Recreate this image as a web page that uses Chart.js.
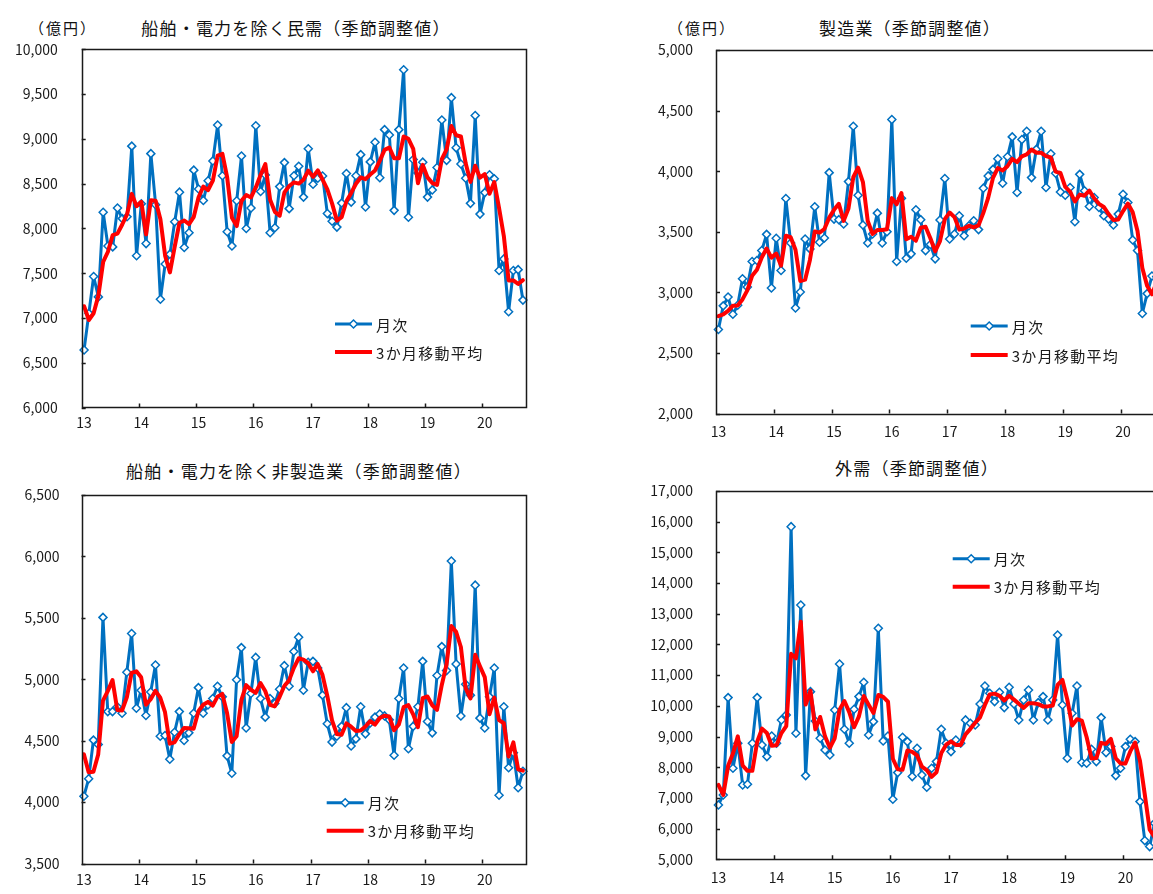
<!DOCTYPE html>
<html lang="ja">
<head>
<meta charset="utf-8">
<title>機械受注（季節調整値）</title>
<script src="https://cdn.jsdelivr.net/npm/chart.js@4.4.1/dist/chart.umd.min.js"></script>
<style>
  html, body { margin: 0; padding: 0; width: 1153px; height: 894px; overflow: hidden; background: #fff; }
  #page { position: relative; width: 1153px; height: 894px; overflow: hidden;
          font-family: "Noto Sans CJK JP", "Noto Sans", sans-serif; color: #111; }
  canvas { position: absolute; }
  .title { position: absolute; font-size: 17px; line-height: 1; white-space: nowrap;
           letter-spacing: 1.2px; transform: translate(-50%, -50%); }
  .unit { position: absolute; font-size: 15px; line-height: 1; white-space: nowrap;
          letter-spacing: 2px; transform: translate(-50%, -50%); }
</style>
</head>
<body>
<div id="page">
  <div class="unit" style="left:63px; top:27px;">（億円）</div>
  <div class="title" style="left:296px; top:27px;">船舶・電力を除く民需（季節調整値）</div>
  <div class="unit" style="left:702px; top:27px;">（億円）</div>
  <div class="title" style="left:910px; top:27px;">製造業（季節調整値）</div>
  <div class="title" style="left:299px; top:470px;">船舶・電力を除く非製造業（季節調整値）</div>
  <div class="title" style="left:917px; top:467px;">外需（季節調整値）</div>

  <canvas id="c-tl" width="560" height="440" style="left:0px; top:0px;"></canvas>
  <canvas id="c-tr" width="540" height="445" style="left:640px; top:0px;"></canvas>
  <canvas id="c-bl" width="560" height="449" style="left:0px; top:445px;"></canvas>
  <canvas id="c-br" width="540" height="449" style="left:640px; top:445px;"></canvas>
</div>

<script>
// ---- categories: monthly, Jan 2013 to Sep 2020 ----
const yearLabels = ['13', '14', '15', '16', '17', '18', '19', '20'];
const monthCount = 93;
const monthLabels = [];
for (let i = 0; i < monthCount; i++) {
  monthLabels.push('20' + yearLabels[Math.floor(i / 12)] + '/' + (i % 12 + 1));
}

// ---- 船舶・電力を除く民需 (億円) ----
const privateMonthly = [
  6644, 7052, 7463, 7236, 8180, 7805, 7794, 8228, 8110, 8130, 8919, 7695,
  8276, 7831, 8835, 8265, 7210, 7603, 7713, 8074, 8405, 7787, 7952, 8651,
  8441, 8313, 8533, 8754, 9155, 8588, 7963, 7805, 8309, 8809, 8000, 8228,
  9147, 8412, 8596, 7952, 8008, 8467, 8735, 8221, 8588, 8695, 8350, 8890,
  8493, 8560, 8585, 8166, 8081, 8015, 8283, 8614, 8294, 8588, 8824, 8239,
  8743, 8963, 8566, 9103, 9044, 8202, 9103, 9772, 8125, 8770, 8620, 8740,
  8350, 8430, 8680, 9210, 8760, 9460, 8900, 8720, 8560, 8280, 9260, 8160,
  8400, 8600, 8555, 7530, 7660, 7070, 7530, 7540, 7200
];
const privateAvg = [
  7132, 6978, 7053, 7250, 7626, 7740, 7926, 7942, 8044, 8156, 8386, 8248,
  8297, 7934, 8314, 8310, 8103, 7693, 7509, 7797, 8064, 8089, 8048, 8130,
  8348, 8468, 8429, 8533, 8814, 8832, 8569, 8119, 8026, 8308, 8373, 8346,
  8458, 8596, 8718, 8320, 8185, 8142, 8403, 8474, 8515, 8501, 8544, 8645,
  8578, 8648, 8546, 8437, 8277, 8087, 8126, 8304, 8397, 8499, 8569, 8550,
  8602, 8648, 8757, 8877, 8904, 8783, 8783, 9026, 9000, 8889, 8505, 8710,
  8570, 8507, 8487, 8773, 8883, 9143, 9040, 9027, 8727, 8520, 8700, 8567,
  8607, 8387, 8518, 8228, 7915, 7420, 7420, 7380, 7423
];

// ---- 製造業 (億円) ----
const mfgMonthly = [
  2694, 2889, 2962, 2820, 2894, 3113, 3044, 3255, 3263, 3345, 3479, 3036,
  3447, 3181, 3775, 3408, 2872, 3003, 3441, 3359, 3706, 3414, 3449, 3988,
  3605, 3600, 3564, 3914, 4371, 3802, 3556, 3408, 3482, 3654, 3408, 3501,
  4426, 3255, 3776, 3282, 3318, 3682, 3600, 3345, 3395, 3277, 3597, 3939,
  3441, 3482, 3632, 3468, 3550, 3591, 3518, 3860, 3961, 4015, 4103, 3901,
  4119, 4283, 3824, 4261, 4330, 3947, 4180, 4330, 3865, 4144, 3983, 3829,
  3802, 3865, 3583, 3974, 3838, 3709, 3783, 3701, 3632, 3605, 3556, 3646,
  3810, 3742, 3433, 3345, 2826, 2990, 3135, 3130, 3250
];
const mfgAvg = [
  2804, 2818, 2848, 2890, 2892, 2942, 3017, 3137, 3187, 3288, 3362, 3287,
  3321, 3221, 3468, 3455, 3352, 3094, 3105, 3268, 3502, 3493, 3523, 3617,
  3681, 3731, 3590, 3693, 3950, 4029, 3910, 3589, 3482, 3515, 3515, 3521,
  3778, 3727, 3819, 3438, 3459, 3427, 3533, 3542, 3447, 3339, 3423, 3604,
  3659, 3621, 3518, 3527, 3550, 3536, 3553, 3656, 3780, 3945, 4026, 4006,
  4041, 4101, 4075, 4123, 4138, 4179, 4152, 4152, 4125, 4113, 3997, 3985,
  3871, 3832, 3750, 3807, 3798, 3840, 3777, 3731, 3705, 3646, 3598, 3602,
  3671, 3733, 3662, 3507, 3201, 3054, 2984, 3085, 3172
];

// ---- 船舶・電力を除く非製造業 (億円) ----
const nonMfgMonthly = [
  4048, 4190, 4505, 4470, 5504, 4737, 4737, 4777, 4724, 5058, 5373, 4764,
  4911, 4705, 4897, 5116, 4537, 4542, 4350, 4569, 4737, 4502, 4564, 4724,
  4932, 4724, 4791, 4844, 4943, 4857, 4377, 4235, 4996, 5258, 4604, 4884,
  5178, 4844, 4692, 4844, 4804, 4919, 5111, 4943, 5226, 5343, 4911, 5138,
  5146, 5092, 4871, 4638, 4489, 4537, 4617, 4769, 4457, 4515, 4777, 4556,
  4644, 4692, 4718, 4702, 4670, 4382, 4844, 5092, 4435, 4617, 4777, 5146,
  4657, 4564, 5031, 5266, 5071, 5963, 5124, 4702, 4959, 4871, 5766, 4684,
  4604, 4857, 5092, 4056, 4777, 4280, 4403, 4118, 4251
];
const nonMfgAvg = [
  4390, 4243, 4248, 4388, 4826, 4904, 4993, 4750, 4746, 4853, 5052, 5065,
  5016, 4793, 4838, 4906, 4850, 4732, 4476, 4487, 4552, 4603, 4601, 4597,
  4740, 4793, 4816, 4786, 4859, 4881, 4726, 4490, 4536, 4830, 4953, 4915,
  4889, 4969, 4905, 4793, 4780, 4856, 4945, 4991, 5093, 5171, 5160, 5131,
  5065, 5125, 5036, 4867, 4666, 4555, 4548, 4641, 4614, 4580, 4583, 4616,
  4659, 4631, 4685, 4704, 4697, 4585, 4632, 4773, 4790, 4715, 4610, 4847,
  4860, 4789, 4751, 4954, 5123, 5433, 5386, 5263, 4928, 4844, 5199, 5107,
  5018, 4715, 4851, 4668, 4642, 4371, 4487, 4267, 4257
];

// ---- 外需 (億円) ----
const foreignMonthly = [
  6772, 7097, 10268, 7966, 8780, 7423, 7445, 8780, 10268, 8726, 8346, 9019,
  8780, 9541, 9704, 15838, 9106, 13287, 7727, 10463, 9508, 8943, 8563, 8400,
  9866, 11365, 9236, 8780, 9888, 10301, 10768, 9052, 9486, 12526, 8857, 9019,
  6956, 7825, 8976, 8835, 7695, 8618, 7749, 7347, 7966, 8183, 9236, 8780,
  8509, 8889, 8780, 9541, 9432, 9378, 10062, 10648, 10409, 10138, 10442, 9942,
  10605, 10062, 9541, 10192, 10518, 9541, 10105, 10301, 9541, 10192, 12309, 10029,
  8292, 9758, 10648, 8151, 8129, 8585, 8183, 9617, 8477, 8672, 7727, 7966,
  8672, 8911, 8835, 6880, 5610, 5414, 6174, 6500, 6700
];
const foreignAvg = [
  7423, 7097, 8046, 8444, 9005, 8056, 7883, 7883, 8831, 9258, 9113, 8697,
  8715, 9113, 9342, 11694, 11549, 12744, 10040, 10492, 9233, 9638, 9005, 8635,
  8943, 9877, 10156, 9794, 9301, 9656, 10319, 10040, 9769, 10355, 10290, 10134,
  8277, 7933, 7919, 8545, 8502, 8383, 8021, 7905, 7687, 7832, 8462, 8733,
  8842, 8726, 8726, 9070, 9251, 9450, 9624, 10029, 10373, 10398, 10330, 10174,
  10330, 10203, 10069, 9932, 10084, 10084, 10055, 9982, 9982, 10011, 10681, 10843,
  10210, 9360, 9566, 9519, 8976, 8288, 8299, 8795, 8759, 8922, 8292, 8122,
  8122, 8516, 8806, 8209, 7108, 5968, 5733, 6029, 6458
];

// ---- y axis ranges (tick labels) ----
const privateTicks = { min: 6000, max: 10000, step: 500 };
const mfgTicks     = { min: 2000, max: 5000,  step: 500 };
const nonMfgTicks  = { min: 3500, max: 6500,  step: 500 };
const foreignTicks = { min: 5000, max: 17000, step: 1000 };

const seriesNames = { monthly: '月次', avg: '3か月移動平均' };

// ---- styling ----
const BLUE = '#0070C0';
const RED = '#FF0000';
const INK = '#1a1a1a';
const FONT = '"Noto Sans CJK JP", "Noto Sans", sans-serif';

Chart.defaults.font.family = FONT;
Chart.defaults.color = INK;

// Frame around the plot area plus short inward tick marks on both axes.
const framePlugin = {
  id: 'panelFrame',
  afterDraw(chart) {
    const { ctx, chartArea: a, scales } = chart;
    const xs = scales.x, ys = scales.y;
    ctx.save();
    ctx.strokeStyle = INK;
    ctx.lineWidth = 1.5;
    ctx.beginPath();
    ys.ticks.forEach(t => {
      const py = Math.round(ys.getPixelForValue(t.value)) + 0.5;
      ctx.moveTo(a.left, py);
      ctx.lineTo(a.left + 4, py);
    });
    for (let i = 12; i < xs.getLabels().length; i += 12) {
      const px = Math.round((xs.getPixelForValue(i - 1) + xs.getPixelForValue(i)) / 2) + 0.5;
      ctx.moveTo(px, a.bottom);
      ctx.lineTo(px, a.bottom - 4);
    }
    ctx.stroke();
    ctx.strokeRect(Math.round(a.left) + 0.5, Math.round(a.top) + 0.5,
                   Math.round(a.right - a.left), Math.round(a.bottom - a.top));
    ctx.restore();
  }
};

// Two-row legend drawn inside the plot area.
const legendPlugin = {
  id: 'panelLegend',
  afterDraw(chart, args, opts) {
    const ctx = chart.ctx;
    const rows = [
      chart.data.datasets.find(d => d.label === seriesNames.monthly),
      chart.data.datasets.find(d => d.label === seriesNames.avg)
    ];
    ctx.save();
    ctx.font = '15px ' + FONT;
    if ('letterSpacing' in ctx) ctx.letterSpacing = '1.3px';
    ctx.textBaseline = 'middle';
    ctx.textAlign = 'left';
    rows.forEach((ds, r) => {
      const y = r === 0 ? opts.y1 : opts.y2;
      ctx.strokeStyle = ds.borderColor;
      ctx.lineWidth = ds.borderWidth;
      ctx.lineCap = 'butt';
      ctx.beginPath();
      ctx.moveTo(opts.x, y);
      ctx.lineTo(opts.x + opts.len, y);
      ctx.stroke();
      if (ds.pointRadius > 0) {
        const cx = opts.x + opts.len / 2, rr = ds.pointRadius;
        ctx.beginPath();
        ctx.moveTo(cx, y - rr); ctx.lineTo(cx + rr, y); ctx.lineTo(cx, y + rr); ctx.lineTo(cx - rr, y);
        ctx.closePath();
        ctx.fillStyle = ds.pointBackgroundColor;
        ctx.fill();
        ctx.lineWidth = ds.pointBorderWidth;
        ctx.strokeStyle = ds.pointBorderColor;
        ctx.stroke();
      }
      ctx.fillStyle = INK;
      ctx.fillText(ds.label, opts.x + opts.len + 4, y + 1);
    });
    ctx.restore();
  }
};

function makePanel(id, monthly, avg, range, geo) {
  return new Chart(document.getElementById(id), {
    type: 'line',
    data: {
      labels: monthLabels,
      datasets: [
        {
          label: seriesNames.avg, data: avg, order: 0,
          borderColor: RED, borderWidth: 4, tension: 0,
          borderJoinStyle: 'round', borderCapStyle: 'round',
          pointRadius: 0, pointHoverRadius: 0
        },
        {
          label: seriesNames.monthly, data: monthly, order: 1,
          borderColor: BLUE, borderWidth: 3, tension: 0,
          borderJoinStyle: 'round',
          pointStyle: 'rectRot', pointRadius: 4, pointHoverRadius: 4,
          pointBackgroundColor: '#ffffff', pointBorderColor: BLUE, pointBorderWidth: 1.5
        }
      ]
    },
    options: {
      responsive: false,
      animation: false,
      devicePixelRatio: 1,
      events: [],
      layout: { autoPadding: false, padding: { left: 0, top: geo.top, right: geo.right, bottom: 0 } },
      plugins: {
        legend: { display: false },
        tooltip: { enabled: false },
        panelLegend: geo.legend
      },
      scales: {
        x: {
          type: 'category',
          offset: true,
          grid: { display: false, drawTicks: false },
          border: { display: false },
          ticks: {
            autoSkip: false, maxRotation: 0, minRotation: 0,
            padding: geo.xPad, color: INK,
            font: { size: 14 },
            callback: (v, i) => (i % 12 === 0 ? yearLabels[i / 12] : '')
          },
          afterFit: s => { s.height = geo.xH; }
        },
        y: {
          min: range.min, max: range.max,
          grid: { display: false, drawTicks: false },
          border: { display: false },
          ticks: {
            stepSize: range.step, padding: geo.yPad, color: INK,
            font: { size: 14 },
            callback: v => v.toLocaleString('en-US')
          },
          afterFit: s => { s.width = geo.yW; }
        }
      }
    },
    plugins: [framePlugin, legendPlugin]
  });
}

makePanel('c-tl', privateMonthly, privateAvg, privateTicks, {
  top: 49.3, right: 34.7, yW: 81.7, xH: 29, xPad: 7, yPad: 24,
  legend: { x: 335, len: 37, y1: 324, y2: 352 }
});
makePanel('c-tr', mfgMonthly, mfgAvg, mfgTicks, {
  top: 50, right: 16, yW: 76, xH: 29.3, xPad: 10, yPad: 23,
  legend: { x: 330.7, len: 37, y1: 326, y2: 355 }
});
makePanel('c-bl', nonMfgMonthly, nonMfgAvg, nonMfgTicks, {
  top: 50, right: 34.7, yW: 81.5, xH: 24.7, xPad: 8, yPad: 22,
  legend: { x: 326.7, len: 37, y1: 357.7, y2: 385.7 }
});
makePanel('c-br', foreignMonthly, foreignAvg, foreignTicks, {
  top: 46, right: 13.4, yW: 76, xH: 34.7, xPad: 10, yPad: 23,
  legend: { x: 312.7, len: 37, y1: 113.7, y2: 141.7 }
});
</script>
</body>
</html>
